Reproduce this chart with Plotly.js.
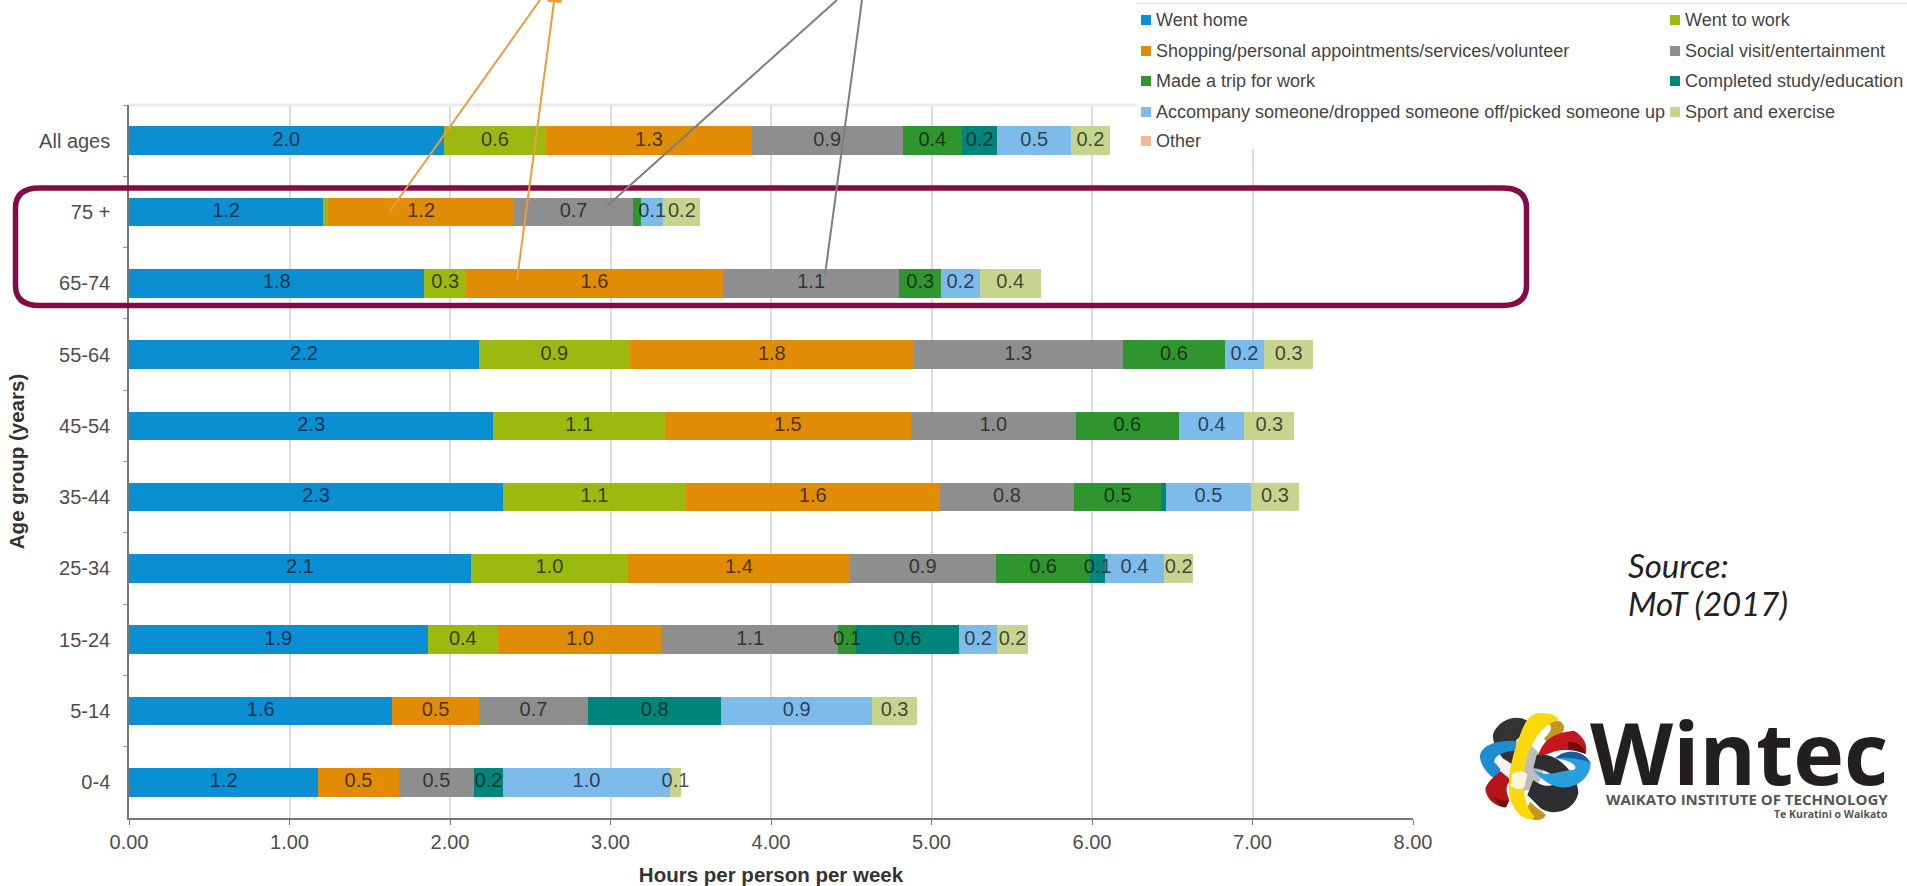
<!DOCTYPE html>
<html>
<head>
<meta charset="utf-8">
<title>Hours per person per week by age group</title>
<script src="https://cdn.plot.ly/plotly-3.0.1.min.js"></script>
<style>html,body{margin:0;padding:0;background:#fff;overflow:hidden}</style>
</head>
<body>
<div id="chart" style="width:1907px;height:886px"></div>
<script>
// Age groups, top row first
const ageGroups = ['All ages', '75 +', '65-74', '55-64', '45-54', '35-44', '25-34', '15-24', '5-14', '0-4'];

// Hours per person per week for each purpose, same order as ageGroups
const wentHome    = [1.96, 1.21, 1.84, 2.18, 2.27, 2.33, 2.13, 1.86, 1.64, 1.18];
const wentToWork  = [0.64, 0.03, 0.26, 0.94, 1.07, 1.14, 0.98, 0.44, 0, 0];
const shopping    = [1.28, 1.16, 1.60, 1.77, 1.53, 1.58, 1.38, 1.02, 0.54, 0.50];
const socialVisit = [0.94, 0.74, 1.10, 1.30, 1.03, 0.84, 0.91, 1.10, 0.68, 0.47];
const tripForWork = [0.37, 0.05, 0.26, 0.64, 0.64, 0.54, 0.59, 0.11, 0, 0];
const study       = [0.22, 0, 0, 0, 0, 0.03, 0.09, 0.64, 0.83, 0.18];
const accompany   = [0.46, 0.14, 0.24, 0.24, 0.41, 0.53, 0.37, 0.24, 0.94, 1.04];
const sport       = [0.24, 0.23, 0.38, 0.31, 0.31, 0.30, 0.18, 0.19, 0.28, 0.07];
const other       = [0, 0, 0, 0, 0, 0, 0, 0, 0, 0];

const seriesNames = [
  'Went home', 'Went to work',
  'Shopping/personal appointments/services/volunteer', 'Social visit/entertainment',
  'Made a trip for work', 'Completed study/education',
  'Accompany someone/dropped someone off/picked someone up', 'Sport and exercise',
  'Other'
];
const seriesValues = [wentHome, wentToWork, shopping, socialVisit, tripForWork, study, accompany, sport, other];
const seriesColors = ['#0A90D2', '#9CB90F', '#E08C05', '#8E8E8E', '#2F962F', '#00857B', '#7DBBEB', '#C6D48E', '#EDBB96'];

const W = 1907, H = 886;
const plot = {l: 129, r: 1413, t: 105, b: 818};
const FONT = '"Liberation Sans", Arial, sans-serif';

// Pixel position on the page to paper fraction
const px = x => (x - plot.l) / (plot.r - plot.l);
const py = y => (plot.b - y) / (plot.b - plot.t);

const traces = seriesNames.map((name, i) => ({
  type: 'bar',
  orientation: 'h',
  name,
  y: ageGroups,
  x: seriesValues[i],
  marker: {color: seriesColors[i], line: {width: 0}},
  hoverinfo: 'x+y+name'
}));

// Value labels go in one text layer above all bars, so a label wider than
// its narrow segment is not covered by the next segment in the stack.
const labelX = [], labelY = [], labelText = [];
ageGroups.forEach((group, row) => {
  let start = 0;
  seriesValues.forEach(values => {
    const v = values[row];
    if (v >= 0.06) {
      labelX.push(start + v / 2);
      labelY.push(group);
      labelText.push(v.toFixed(1));
    }
    start += v;
  });
});
traces.push({
  type: 'scatter',
  mode: 'text',
  x: labelX,
  y: labelY,
  text: labelText,
  textposition: 'middle center',
  cliponaxis: false,
  hoverinfo: 'skip',
  showlegend: false,
  textfont: {family: FONT, size: 20, color: 'rgba(15,15,20,0.74)'}
});

const shapes = [];
const annotations = [];

function line(x0, y0, x1, y1, color, width) {
  shapes.push({type: 'line', xref: 'paper', yref: 'paper', layer: 'above',
    x0: px(x0), y0: py(y0), x1: px(x1), y1: py(y1), line: {color, width}});
}
function fillPath(d, color) {
  shapes.push({type: 'path', xref: 'paper', yref: 'paper', layer: 'above', path: d,
    fillcolor: color, line: {width: 0}});
}
function label(x, y, text, size, opts) {
  annotations.push(Object.assign({xref: 'paper', yref: 'paper', x: px(x), y: py(y), text,
    showarrow: false, xanchor: 'left', yanchor: 'middle',
    font: {family: FONT, size, color: '#444'}}, opts || {}));
}

// Faint top border of the plotting area
line(plot.l, plot.t, plot.r, plot.t, '#e9e9e9', 3);

// Legend panel sits over the plot's upper right corner
shapes.push({type: 'rect', xref: 'paper', yref: 'paper', layer: 'above',
  x0: px(1136), x1: px(W), y0: py(149), y1: py(3),
  fillcolor: '#ffffff', line: {width: 0}});
line(1136, 3.5, W, 3.5, '#e2e2e2', 1.5);

const legendRows = [20, 51, 81, 112, 141];
const legendCols = [1141, 1670];
seriesNames.forEach((name, i) => {
  const col = i === 8 ? 0 : i % 2;
  const rowY = legendRows[Math.floor(i / 2)];
  shapes.push({type: 'rect', xref: 'paper', yref: 'paper', layer: 'above',
    x0: px(legendCols[col]), x1: px(legendCols[col] + 10),
    y0: py(rowY + 5), y1: py(rowY - 5),
    fillcolor: seriesColors[i], line: {width: 0}});
  label(legendCols[col] + 13, rowY, name, 18);
});

// Rounded frame around the older age groups
const fx0 = px(15.5), fx1 = px(1526.5), fy0 = py(188), fy1 = py(305.5);
const rx = 24 / (plot.r - plot.l), ry = 20 / (plot.b - plot.t);
shapes.push({type: 'path', xref: 'paper', yref: 'paper', layer: 'above',
  path: `M ${fx0 + rx},${fy0} L ${fx1 - rx},${fy0} Q ${fx1},${fy0} ${fx1},${fy0 - ry} ` +
        `L ${fx1},${fy1 + ry} Q ${fx1},${fy1} ${fx1 - rx},${fy1} L ${fx0 + rx},${fy1} ` +
        `Q ${fx0},${fy1} ${fx0},${fy1 + ry} L ${fx0},${fy0 - ry} Q ${fx0},${fy0} ${fx0 + rx},${fy0} Z`,
  line: {color: '#830B47', width: 5.5}});

// Leader lines from the top edge down to the shopping and social segments
const ORANGE = '#F09A3E', GREY = '#7F7F7F';
line(540, 0, 390, 211, ORANGE, 2);
line(554, 2, 517, 280, ORANGE, 2);
line(837, 0, 607, 206, GREY, 2);
line(862, 0, 825, 275, GREY, 2);
fillPath(`M ${px(547)},${py(0)} L ${px(562)},${py(0)} L ${px(561)},${py(3)} L ${px(548)},${py(2)} Z`, ORANGE);

// Source note
const SOURCE_FONT = {family: 'Lato, "Open Sans", sans-serif', size: 33, color: '#222'};
label(1626, 565, '<i>Source:</i>', 33, {font: SOURCE_FONT});
label(1626, 603, '<i>MoT (2017)</i>', 33, {font: SOURCE_FONT});

// Institute wordmark
const MARK_FONT = '"Open Sans", sans-serif';
label(1890, 751, '<b>Wintec</b>', 86, {xanchor: 'right',
  font: {family: MARK_FONT, size: 86, color: '#231F20'}});
label(1890, 799, '<b>WAIKATO INSTITUTE OF TECHNOLOGY</b>', 15, {xanchor: 'right',
  font: {family: MARK_FONT, size: 15, color: '#555'}});
label(1890, 814, '<b>Te Kuratini o Waikato</b>', 10.5, {xanchor: 'right',
  font: {family: MARK_FONT, size: 10.5, color: '#555'}});

// Ribbon emblem, drawn in a local 3x grid anchored at the emblem's corner
function ribbon(cmds, color) {
  const d = cmds.replace(/(-?\d+(?:\.\d+)?),(-?\d+(?:\.\d+)?)/g,
    (m, u, v) => `${px(1470 + u / 3)},${py(700 + v / 3)}`);
  fillPath(d, color);
}
// Back of the gold ring
ribbon('M 245,60 C 295,60 295,95 240,140 L 222,115 C 250,90 250,75 225,65 Z', '#C4951F');
ribbon('M 180,305 C 195,320 210,328 228,345 C 215,368 185,362 162,345 Z', '#C4951F');
// Pale core where the ribbons cross
ribbon('M 110,130 C 150,110 210,140 220,190 C 225,240 190,280 150,270 C 110,260 85,180 110,130 Z', '#BDBDBD');
// Dark bands
ribbon('M 70,100 C 92,50 155,40 182,72 L 165,125 C 145,105 135,115 135,145 L 142,200 L 100,178 C 78,145 65,122 70,100 Z', '#333336');
ribbon('M 200,165 C 262,152 325,225 325,280 C 312,335 250,350 212,325 L 172,285 L 190,240 C 215,262 250,262 262,245 C 250,222 225,208 190,205 Z', '#2E2E30');
// Blue band, left and right
ribbon('M 30,165 C 40,128 90,122 135,122 L 140,152 C 105,152 75,165 72,185 L 98,215 L 78,238 C 50,222 28,190 30,165 Z', '#1C8DD0');
// Red band, upper right and lower left
ribbon('M 205,165 C 220,120 250,98 312,92 C 342,110 354,135 347,162 C 320,150 280,145 250,155 C 235,160 215,170 205,165 Z', '#C5161D');
ribbon('M 295,125 C 320,125 340,135 347,162 C 330,155 312,150 295,148 Z', '#6E0C10');
ribbon('M 46,265 C 55,240 85,218 108,205 L 128,235 C 112,250 102,262 118,300 L 108,322 C 80,322 48,300 46,265 Z', '#B5141A');
ribbon('M 72,290 C 85,300 100,305 118,300 L 108,322 C 92,322 80,310 72,290 Z', '#6E0C10');
ribbon('M 190,210 C 240,235 260,212 310,210 C 330,200 300,180 255,175 C 290,142 345,152 362,190 C 362,232 320,268 270,262 C 240,258 210,235 190,210 Z', '#2A9FDF');
ribbon('M 255,175 C 290,142 345,152 362,190 C 345,178 300,172 255,175 Z', '#0E5F9C');
ribbon('M 92,172 C 110,180 128,195 132,205 L 120,238 L 90,212 Z', '#F2F2F2');
// Gold ring, front
ribbon('M 200,40 C 240,36 268,48 264,62 C 222,70 182,120 164,200 C 154,260 164,320 194,350 C 182,368 138,352 122,300 C 106,250 126,160 156,90 C 168,58 185,44 200,40 Z', '#FBD90F');
ribbon('M 126,222 C 140,212 160,212 172,222 L 162,264 C 148,270 133,266 122,258 Z', '#FFF8D8');

const layout = {
  width: W,
  height: H,
  autosize: false,
  showlegend: false,
  barmode: 'stack',
  bargap: 0.6,
  paper_bgcolor: '#fff',
  plot_bgcolor: '#fff',
  margin: {l: plot.l, r: W - plot.r, t: plot.t, b: H - plot.b, pad: 0},
  xaxis: {
    range: [0, 8],
    dtick: 1,
    tickformat: '.2f',
    showgrid: true,
    gridcolor: '#dbdbdb',
    gridwidth: 1.5,
    zeroline: false,
    showline: true,
    linecolor: '#777',
    linewidth: 1.5,
    ticks: 'outside',
    ticklen: 5,
    tickcolor: '#777',
    tickfont: {family: FONT, size: 20, color: '#4d4d4d'},
    title: {text: '<b>Hours per person per week</b>', standoff: 19,
      font: {family: FONT, size: 20.5, color: '#333'}}
  },
  yaxis: {
    type: 'category',
    categoryorder: 'array',
    categoryarray: ageGroups,
    range: [9.5, -0.5],
    tickson: 'boundaries',
    showgrid: false,
    zeroline: false,
    showline: true,
    linecolor: '#777',
    linewidth: 1.5,
    ticks: 'outside',
    ticklen: 4,
    tickcolor: '#999',
    ticklabelstandoff: 13,
    tickfont: {family: FONT, size: 20, color: '#4d4d4d'},
    title: {text: '<b>Age group (years)</b>', standoff: 9,
      font: {family: FONT, size: 20.5, color: '#333'}}
  },
  shapes,
  annotations
};

Plotly.newPlot('chart', traces, layout, {displayModeBar: false, responsive: false});
</script>
</body>
</html>
